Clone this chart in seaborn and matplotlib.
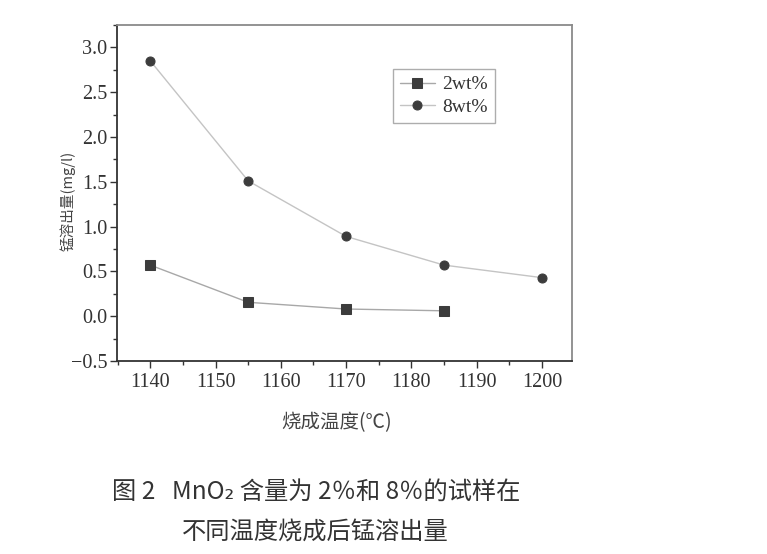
import matplotlib
matplotlib.use("Agg")
import matplotlib.pyplot as plt
import seaborn as sns
import pandas as pd
from matplotlib.ticker import MultipleLocator

temps_2 = [1140, 1155, 1170, 1185]
vals_2 = [0.57, 0.155, 0.08, 0.06]
temps_8 = [1140, 1155, 1170, 1185, 1200]
vals_8 = [2.85, 1.51, 0.89, 0.57, 0.43]
series_names = ["2wt%", "8wt%"]
x_ticks = [1140, 1150, 1160, 1170, 1180, 1190, 1200]
y_ticks = [-0.5, 0.0, 0.5, 1.0, 1.5, 2.0, 2.5, 3.0]
y_tick_labels = ["−0.5", "0.0", "0.5", "1.0", "1.5", "2.0", "2.5", "3.0"]

df = pd.DataFrame({
    "temp": temps_2 + temps_8,
    "val": vals_2 + vals_8,
    "series": [series_names[0]] * len(temps_2) + [series_names[1]] * len(temps_8),
})

sns.set_theme(style="white")
cjk = ["Noto Sans CJK SC", "DejaVu Sans"]
serif = ["Liberation Serif", "DejaVu Serif"]
plt.rcParams["font.family"] = serif

fig = plt.figure(figsize=(7.67, 5.54), dpi=100)
ax = fig.add_axes([0.1525, 0.3484, 0.5933, 0.6065])

sns.lineplot(data=df, x="temp", y="val", hue="series", style="series",
             markers={"2wt%": "s", "8wt%": "o"}, dashes=False,
             palette={"2wt%": "#a8a8a8", "8wt%": "#c4c4c4"},
             linewidth=1.0, markersize=6.5, mfc="#3c3c3c", mec="#3c3c3c",
             ax=ax)

ax.set_xlim(1134.9, 1204.6)
ax.set_ylim(-0.5, 3.25)
ax.set_xticks(x_ticks)
ax.set_yticks(y_ticks)
ax.set_yticklabels(y_tick_labels)
ax.xaxis.set_minor_locator(MultipleLocator(5))
ax.yaxis.set_minor_locator(MultipleLocator(0.25))
ax.tick_params(axis="both", which="major", direction="out", length=5, width=1,
               color="#333333", labelsize=14.5, labelcolor="#333333",
               bottom=True, left=True, top=False, right=False)
ax.tick_params(axis="both", which="minor", direction="out", length=3, width=1,
               color="#333333", bottom=True, left=True, top=False, right=False)
ax.tick_params(axis="y", which="major", pad=2)
for lab in ax.get_xticklabels() + ax.get_yticklabels():
    lab.set_family(serif)

for s in ["left", "bottom"]:
    ax.spines[s].set_color("#333333")
    ax.spines[s].set_linewidth(1.3)
for s in ["top", "right"]:
    ax.spines[s].set_color("#8a8a8a")
    ax.spines[s].set_linewidth(1.3)

ax.set_xlabel("")
ax.set_ylabel("")

handles, labels = ax.get_legend_handles_labels()
leg = ax.legend(handles, labels, loc="upper left", bbox_to_anchor=(0.585, 0.898),
                frameon=True, fancybox=False, fontsize=14, handlelength=1.8,
                borderpad=0.35, labelspacing=0.25, handletextpad=0.4)
leg.get_frame().set_edgecolor("#999999")
leg.get_frame().set_linewidth(1.0)
for t in leg.get_texts():
    t.set_family(serif)
    t.set_color("#333333")

fig.text(0.439, 1 - 423 / 554, "烧成温度(℃)", family=cjk, fontsize=14,
         color="#444444", ha="center", va="center")
fig.text(68 / 767, 1 - 201 / 554, "锰溶出量(mg/l)", family=cjk, fontsize=10.5,
         color="#444444", ha="center", va="center", rotation=90)

fig.text(112 / 767, 1 - 492 / 554, "图 2   MnO₂ 含量为 2％和 8％的试样在",
         family=cjk, fontsize=17.5, color="#333333", ha="left", va="center")
fig.text(182 / 767, 1 - 532 / 554, "不同温度烧成后锰溶出量",
         family=cjk, fontsize=17.5, color="#333333", ha="left", va="center")

fig.savefig("out.png", dpi=100)
